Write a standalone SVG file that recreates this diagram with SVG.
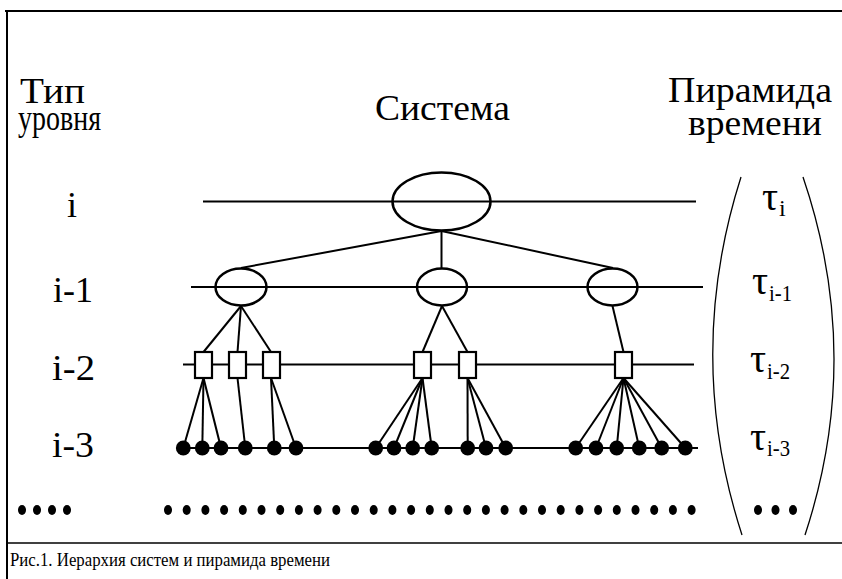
<svg xmlns="http://www.w3.org/2000/svg" width="842" height="579" viewBox="0 0 842 579">
<style>
.lvl{stroke:#000;stroke-width:2;fill:none}
.c{stroke:#000;stroke-width:2;fill:none}
.ell{stroke:#000;stroke-width:2.5;fill:none}
.sq{stroke:#000;stroke-width:2.2;fill:#fff}
.br{stroke:#000;stroke-width:1.3;fill:none}
</style>
<rect width="842" height="579" fill="#fff"/>
<g id="frame">
<line x1="5" y1="11" x2="842" y2="11" stroke="#000" stroke-width="2"/>
<line x1="7" y1="10" x2="7" y2="579" stroke="#000" stroke-width="2"/>
<line x1="7" y1="543" x2="842" y2="543" stroke="#000" stroke-width="1.5"/>
</g>
<g id="headers" font-family="Liberation Serif, serif" font-size="35" fill="#000">
<text x="20" y="103" textLength="65" lengthAdjust="spacingAndGlyphs">Тип</text>
<text x="18" y="130" textLength="83" lengthAdjust="spacingAndGlyphs">уровня</text>
<text x="375" y="120" textLength="135" lengthAdjust="spacingAndGlyphs">Система</text>
<text x="668" y="102" textLength="164" lengthAdjust="spacingAndGlyphs">Пирамида</text>
<text x="688" y="135" textLength="134" lengthAdjust="spacingAndGlyphs">времени</text>
</g>
<g id="levels" font-family="Liberation Serif, serif" font-size="36" fill="#000">
<text x="67" y="217">i</text>
<text x="53" y="302" textLength="40" lengthAdjust="spacingAndGlyphs">i-1</text>
<text x="52" y="380" textLength="43" lengthAdjust="spacingAndGlyphs">i-2</text>
<text x="52" y="457" textLength="42" lengthAdjust="spacingAndGlyphs">i-3</text>
</g>
<g id="level-lines">
<line class="lvl" x1="203" y1="201.5" x2="696" y2="201.5"/>
<line class="lvl" x1="191" y1="287" x2="703" y2="287"/>
<line class="lvl" x1="183" y1="364.5" x2="694" y2="364.5"/>
<line class="lvl" x1="180" y1="448" x2="698" y2="448"/>
</g>
<g id="connectors">
<line class="c" x1="441.5" y1="231" x2="241" y2="268"/>
<line class="c" x1="441.5" y1="231" x2="441.5" y2="268"/>
<line class="c" x1="441.5" y1="231" x2="613" y2="268"/>
<line class="c" x1="241" y1="306" x2="203.5" y2="352"/>
<line class="c" x1="241" y1="306" x2="237.5" y2="352"/>
<line class="c" x1="241" y1="306" x2="271" y2="352"/>
<line class="c" x1="442" y1="306" x2="422.5" y2="352"/>
<line class="c" x1="442" y1="306" x2="467.5" y2="352"/>
<line class="c" x1="612.5" y1="306" x2="623.5" y2="352"/>
<line class="c" x1="203.5" y1="378" x2="183.3" y2="448"/>
<line class="c" x1="203.5" y1="378" x2="202.3" y2="448"/>
<line class="c" x1="203.5" y1="378" x2="221" y2="448"/>
<line class="c" x1="237.5" y1="378" x2="245.3" y2="448"/>
<line class="c" x1="271" y1="378" x2="274.3" y2="448"/>
<line class="c" x1="271" y1="378" x2="296" y2="448"/>
<line class="c" x1="422.5" y1="378" x2="375.7" y2="448"/>
<line class="c" x1="422.5" y1="378" x2="394" y2="448"/>
<line class="c" x1="422.5" y1="378" x2="412.7" y2="448"/>
<line class="c" x1="422.5" y1="378" x2="431.7" y2="448"/>
<line class="c" x1="467.5" y1="378" x2="467.7" y2="448"/>
<line class="c" x1="467.5" y1="378" x2="486" y2="448"/>
<line class="c" x1="467.5" y1="378" x2="505.7" y2="448"/>
<line class="c" x1="623.5" y1="378" x2="575.7" y2="448"/>
<line class="c" x1="623.5" y1="378" x2="596" y2="448"/>
<line class="c" x1="623.5" y1="378" x2="616.7" y2="448"/>
<line class="c" x1="623.5" y1="378" x2="639.3" y2="448"/>
<line class="c" x1="623.5" y1="378" x2="661.7" y2="448"/>
<line class="c" x1="623.5" y1="378" x2="685.3" y2="448"/>
</g>
<g id="sys-i"><ellipse class="ell" cx="441.5" cy="201.5" rx="49" ry="29"/></g>
<g id="sys-i1-a"><ellipse class="ell" cx="241" cy="287" rx="25.5" ry="18.5"/></g>
<g id="sys-i1-b"><ellipse class="ell" cx="442" cy="287" rx="25" ry="18.5"/></g>
<g id="sys-i1-c"><ellipse class="ell" cx="612.5" cy="287" rx="25" ry="18.5"/></g>
<g id="sys-i2-a"><rect class="sq" x="195" y="352" width="17" height="26"/></g>
<g id="sys-i2-b"><rect class="sq" x="229" y="352" width="17" height="26"/></g>
<g id="sys-i2-c"><rect class="sq" x="263" y="352" width="17" height="26"/></g>
<g id="sys-i2-d"><rect class="sq" x="414" y="352" width="17" height="26"/></g>
<g id="sys-i2-e"><rect class="sq" x="459" y="352" width="17" height="26"/></g>
<g id="sys-i2-f"><rect class="sq" x="615" y="352" width="17" height="26"/></g>
<g id="sys-i3" fill="#000">
<circle cx="183.3" cy="448" r="7.4"/><circle cx="202.3" cy="448" r="7.4"/><circle cx="221" cy="448" r="7.4"/>
<circle cx="245.3" cy="448" r="7.4"/><circle cx="274.3" cy="448" r="7.4"/><circle cx="296" cy="448" r="7.4"/>
<circle cx="375.7" cy="448" r="7.4"/><circle cx="394" cy="448" r="7.4"/><circle cx="412.7" cy="448" r="7.4"/><circle cx="431.7" cy="448" r="7.4"/>
<circle cx="467.7" cy="448" r="7.4"/><circle cx="486" cy="448" r="7.4"/><circle cx="505.7" cy="448" r="7.4"/>
<circle cx="575.7" cy="448" r="7.4"/><circle cx="596" cy="448" r="7.4"/><circle cx="616.7" cy="448" r="7.4"/><circle cx="639.3" cy="448" r="7.4"/><circle cx="661.7" cy="448" r="7.4"/><circle cx="685.3" cy="448" r="7.4"/>
</g>
<g id="ellipsis-dots" fill="#000">
<ellipse cx="22" cy="510" rx="4" ry="5"/><ellipse cx="37" cy="510" rx="4" ry="5"/><ellipse cx="52" cy="510" rx="4" ry="5"/><ellipse cx="67" cy="510" rx="4" ry="5"/>
<ellipse cx="168" cy="510" rx="4" ry="5"/><ellipse cx="186.7" cy="510" rx="4" ry="5"/><ellipse cx="205.4" cy="510" rx="4" ry="5"/><ellipse cx="224.1" cy="510" rx="4" ry="5"/><ellipse cx="242.8" cy="510" rx="4" ry="5"/><ellipse cx="261.5" cy="510" rx="4" ry="5"/><ellipse cx="280.2" cy="510" rx="4" ry="5"/><ellipse cx="298.9" cy="510" rx="4" ry="5"/><ellipse cx="317.6" cy="510" rx="4" ry="5"/><ellipse cx="336.3" cy="510" rx="4" ry="5"/><ellipse cx="355" cy="510" rx="4" ry="5"/><ellipse cx="373.7" cy="510" rx="4" ry="5"/><ellipse cx="392.4" cy="510" rx="4" ry="5"/><ellipse cx="411.1" cy="510" rx="4" ry="5"/><ellipse cx="429.8" cy="510" rx="4" ry="5"/><ellipse cx="448.5" cy="510" rx="4" ry="5"/><ellipse cx="467.2" cy="510" rx="4" ry="5"/><ellipse cx="485.9" cy="510" rx="4" ry="5"/><ellipse cx="504.6" cy="510" rx="4" ry="5"/><ellipse cx="523.3" cy="510" rx="4" ry="5"/><ellipse cx="542" cy="510" rx="4" ry="5"/><ellipse cx="560.7" cy="510" rx="4" ry="5"/><ellipse cx="579.4" cy="510" rx="4" ry="5"/><ellipse cx="598.1" cy="510" rx="4" ry="5"/><ellipse cx="616.8" cy="510" rx="4" ry="5"/><ellipse cx="635.5" cy="510" rx="4" ry="5"/><ellipse cx="654.2" cy="510" rx="4" ry="5"/><ellipse cx="672.9" cy="510" rx="4" ry="5"/><ellipse cx="691.6" cy="510" rx="4" ry="5"/>
<ellipse cx="758" cy="510" rx="4" ry="5"/><ellipse cx="775.5" cy="510" rx="4" ry="5"/><ellipse cx="793" cy="510" rx="4" ry="5"/>
</g>
<g id="time-pyramid">
<path class="br" d="M741,177 Q684,356 742,535"/>
<path class="br" d="M803,177 Q864,356 805,535"/>
<g font-family="Liberation Serif, serif" fill="#000">
<text x="762" y="210" font-size="40">τ<tspan font-size="24" dx="1" dy="6">i</tspan></text>
<text x="752" y="294" font-size="40">τ<tspan font-size="24" dx="1" dy="7" textLength="23" lengthAdjust="spacingAndGlyphs">i-1</tspan></text>
<text x="750" y="372" font-size="40">τ<tspan font-size="24" dx="1" dy="7" textLength="23" lengthAdjust="spacingAndGlyphs">i-2</tspan></text>
<text x="750" y="450" font-size="40">τ<tspan font-size="24" dx="1" dy="6" textLength="23" lengthAdjust="spacingAndGlyphs">i-3</tspan></text>
</g>
</g>
<g id="caption">
<text font-family="Liberation Serif, serif" fill="#000" x="10" y="566" font-size="18" textLength="320" lengthAdjust="spacingAndGlyphs">Рис.1. Иерархия систем и пирамида времени</text>
</g>
</svg>
